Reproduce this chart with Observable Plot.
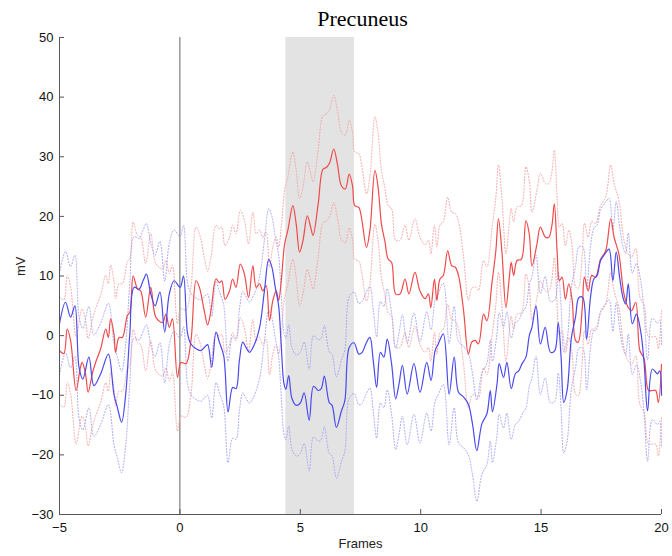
<!DOCTYPE html>
<html><head><meta charset="utf-8">
<script src="https://cdn.jsdelivr.net/npm/d3@7"></script>
<script src="https://cdn.jsdelivr.net/npm/@observablehq/plot@0.6"></script>
<style>body{margin:0;background:#fff}</style>
</head><body><div id="chart"></div>
<script>
const title = "Precuneus";
const xLabel = "Frames";
const yLabel = "mV";
const xTicks = [-5, 0, 5, 10, 15, 20];
const yTicks = [-30, -20, -10, 0, 10, 20, 30, 40, 50];
const xDomain = [-5, 20];
const yDomain = [-30, 50];
const shadeWindow = [4.4, 7.25];
const onsetFrame = [0];

const redX = [-5.0,-4.82,-4.68,-4.54,-4.31,-4.13,-4.06,-3.92,-3.81,-3.64,-3.5,-3.29,-3.08,-2.97,-2.88,-2.74,-2.67,-2.53,-2.39,-2.18,-2.08,-1.94,-1.76,-1.63,-1.42,-1.21,-1.0,-0.72,-0.58,-0.44,-0.31,-0.1,0.04,0.25,0.46,0.67,0.81,
1.01,1.15,1.29,1.5,1.64,1.74,1.875,2.06,2.19,2.33,2.51,2.68,2.85,3.03,3.17,3.31,3.44,3.58,3.72,3.86,4.0,4.1,4.21,4.35,4.48,4.69,4.83,4.97,5.11,5.29,5.43,5.53,5.74,5.94,6.08,6.22,6.39,6.54,6.71,6.87,7.03,7.17,7.26,7.43,7.54,7.75,7.89,8.1,8.23,8.37,8.51,8.65,8.79,8.96,9.14,9.35,9.51,9.76,9.97,
10.18,10.32,10.42,10.57,10.67,10.8,10.94,11.12,11.29,11.43,11.57,11.78,11.98,12.12,12.26,12.4,12.61,12.75,12.96,13.12,13.23,13.37,13.54,13.68,13.76,13.86,14.0,14.18,14.37,14.51,14.62,14.83,14.97,15.18,15.32,15.45,15.55,15.67,15.76,15.87,16.01,16.15,16.29,16.43,16.54,16.71,16.8,16.96,17.1,17.26,17.47,17.68,17.89,18.03,18.23,18.44,18.62,18.76,18.93,19.1,19.28,19.46,19.62,19.76,19.87,20.0];
const redY = [-2.5,-3,1.1,-0.8,-9.2,-5.3,-4.5,-6.4,-9.5,-6.4,-4.5,-2.2,1.1,-0.3,2.8,0.3,-2.8,-0.3,-0.3,3.4,3.9,10,7.8,7.5,3.1,8.1,3.1,2.2,3.6,1.4,2.8,-7,-4.5,-4.7,-0.8,9.2,8.1,
4.2,1.8,4.2,9.5,8.9,9.2,6.1,7.5,9.5,8.1,12,10.3,6.4,11.7,8.1,8.7,7.5,8.4,2.5,5.9,7.5,5.9,9.2,15.4,17.6,21.8,18.7,14,15.9,20.1,18.2,16.8,22,27.9,28.2,29,31.3,28.8,25.1,24.6,27.1,25.1,21.8,21.5,19.8,14.8,17.6,27.7,24.9,18.7,15.9,12.8,12.3,7,7,9.5,7,10.6,7.5,
6.2,7,4.7,9.5,5.9,9.5,10.1,14.2,11.7,11.5,10.1,4.2,-3.1,-1.1,-0.8,-1.4,3.6,2.5,8.9,14.2,19.6,14.2,4.7,9.8,12.3,10.1,12.6,12.8,19.3,17,11.7,15.4,18.2,16.5,16.5,18.5,22.1,13.7,9.2,9.8,6.1,8.7,5.9,-0.8,-1.1,4.7,9.8,7.5,10.1,9.8,12.8,14.2,19.6,16.5,13.7,7,4.7,4.2,5.6,-2.5,-3.9,-9.2,-9.2,-9.2,-11.2,-4.8];

const blueX = [-5.0,-4.75,-4.54,-4.36,-4.19,-4.03,-3.78,-3.57,-3.29,-2.97,-2.74,-2.6,-2.42,-2.25,-2.08,-1.9,-1.69,-1.53,-1.39,-1.21,-1.03,-0.83,-0.63,-0.44,-0.24,0.01,0.15,0.32,0.46,0.67,0.875,1.01,1.15,1.32,1.5,1.64,1.82,2.0,2.19,2.33,2.47,2.61,2.75,2.89,3.1,3.31,3.51,3.69,3.82,3.96,4.1,4.2,4.32,4.4,4.52,4.65,4.83,5.0,5.16,5.37,5.55,5.75,5.87,6.0,6.2,6.32,6.5,6.71,6.85,7.03,7.23,7.43,7.57,7.72,7.89,8.03,8.17,8.33,8.47,8.61,8.79,8.96,9.1,9.24,9.44,9.72,9.97,
10.25,10.43,10.6,10.73,10.94,11.18,11.39,11.57,11.78,11.98,12.15,12.33,12.54,12.75,12.89,12.98,13.17,13.26,13.44,13.58,13.76,13.93,14.07,14.21,14.37,14.51,14.62,14.79,14.97,15.17,15.39,15.57,15.71,15.83,15.94,16.08,16.26,16.43,16.57,16.73,16.89,17.05,17.19,17.33,17.47,17.65,17.82,17.98,18.12,18.26,18.4,18.51,18.62,18.79,18.96,19.14,19.28,19.42,19.62,19.83,19.93,20.0];
const blueY = [2.0,5.6,3.1,5.0,-5.3,-7.3,-3.6,-8.4,-6.4,-3.1,-9.8,-12,-14.5,-9.8,0.3,8.1,7.8,9.2,10.3,7.0,5.0,7.3,0.6,7.0,9.2,8.1,10,0.3,-1.4,-2.2,-2.5,-2,-1.5,-5.3,0.6,-1.1,-3.4,-12.8,-8.7,-8.9,-4.2,-1.1,-2,-2.8,-1.4,1.4,7.5,12.8,11.5,8.1,5,-1,-8,-9,-6.7,-10.5,-11.7,-11.3,-9.6,-14.2,-8.5,-9.2,-8.9,-6.8,-11.2,-11.7,-15.4,-12.6,-10.9,-2,-1.2,-3.1,-2.8,-1.4,-0.3,-4.2,-8.7,-2.8,-3.6,-0.6,-4.7,-10.6,-8.1,-5,-9.8,-4.7,-9.5,
-4.5,-7.5,-2.5,-1.4,0.3,-9.8,-3.6,-9.5,-10.3,-11.5,-14.8,-19.3,-14.8,-13.1,-9.2,-12.8,-8.1,-4.7,-7,-4.5,-8.9,-6.4,-5.9,-4.7,-3.6,0,1.4,5,-1.4,1.4,-2.8,-2.5,2.2,-3.6,-11.2,-9.2,-0.3,3.1,6.4,6.4,-0.6,6.4,9.5,10.1,12.6,13.7,14.5,9.2,14,9.8,6.4,5.3,8.7,2,3.6,0.6,-4.7,-12.6,-5.6,-6.4,-5.9,-10];

// half-width of the dotted bands
const redSpread = 9;
const blueSpread = 8.5;

const series = (xs, ys) => xs.map((x, i) => ({x, y: ys[i]}));
const red = series(redX, redY);
const blue = series(blueX, blueY);

const redMain = "#f04a4a", redDot = "#f6a3a3";
const blueMain = "#4a4af0", blueDot = "#a3a3f6";
const curve = "catmull-rom";

const chart = Plot.plot({
  width: 672, height: 556,
  marginLeft: 59, marginRight: 11, marginTop: 37, marginBottom: 42,
  style: {fontFamily: "'Liberation Sans', Arial, sans-serif", fontSize: "13px", background: "#fff", color: "#111"},
  x: {domain: xDomain, label: null},
  y: {domain: yDomain, label: null},
  marks: [
    Plot.rect([shadeWindow], {x1: d => d[0], x2: d => d[1], fill: "#e3e3e3"}),
    Plot.ruleX(onsetFrame, {stroke: "#666", strokeWidth: 1}),
    Plot.line(red, {x: "x", y: d => d.y + redSpread, stroke: redDot, strokeWidth: 1, strokeDasharray: "1,2", curve}),
    Plot.line(red, {x: "x", y: d => d.y - redSpread, stroke: redDot, strokeWidth: 1, strokeDasharray: "1,2", curve}),
    Plot.line(blue, {x: "x", y: d => d.y + blueSpread, stroke: blueDot, strokeWidth: 1, strokeDasharray: "1,2", curve}),
    Plot.line(blue, {x: "x", y: d => d.y - blueSpread, stroke: blueDot, strokeWidth: 1, strokeDasharray: "1,2", curve}),
    Plot.line(red, {x: "x", y: "y", stroke: redMain, strokeWidth: 1.2, curve}),
    Plot.line(blue, {x: "x", y: "y", stroke: blueMain, strokeWidth: 1.2, curve}),
    Plot.ruleX([xDomain[0]], {stroke: "#555", strokeWidth: 1}),
    Plot.ruleY([yDomain[0]], {stroke: "#555", strokeWidth: 1}),
    Plot.axisX({ticks: xTicks, tickSize: -5, tickPadding: 13, label: null, stroke: "#555", fontSize: 13}),
    Plot.axisY({ticks: yTicks, tickSize: -5, tickPadding: 11, label: null, stroke: "#555", fontSize: 13}),
    Plot.text([title], {text: d => d, frameAnchor: "top", lineAnchor: "middle", dy: -19, dx: 2, fontFamily: "'Liberation Serif', 'Times New Roman', serif", fontSize: 22, fill: "#000"}),
    Plot.text([xLabel], {text: d => d, frameAnchor: "bottom", lineAnchor: "middle", dy: 29, fontSize: 13, fill: "#222"}),
    Plot.text([yLabel], {text: d => d, frameAnchor: "left", dx: -39, rotate: -90, fontSize: 13, fill: "#222"})
  ]
});
document.getElementById("chart").appendChild(chart);
</script>
</body></html>
